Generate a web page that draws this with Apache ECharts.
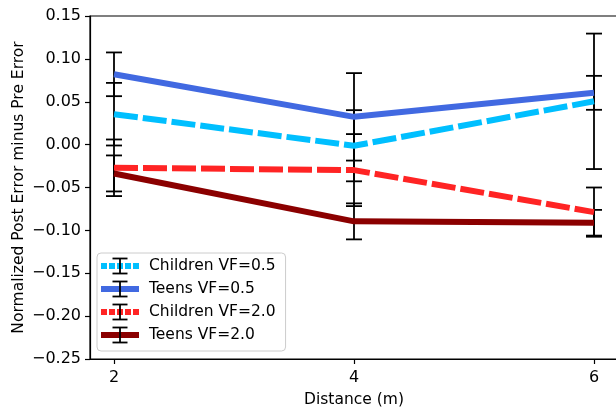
<!DOCTYPE html>
<html>
<head>
<meta charset="utf-8">
<script src="https://cdn.jsdelivr.net/npm/echarts@6/dist/echarts.min.js"></script>
<style>
  html, body { margin: 0; padding: 0; background: #ffffff; }
  #chart { width: 616px; height: 407px; }
</style>
</head>
<body>
<div id="chart"></div>
<script>
// ---- data ----
const distances = [2, 4, 6];
const seriesNames = ['Children VF=0.5', 'Teens VF=0.5', 'Children VF=2.0', 'Teens VF=2.0'];
const childrenVF05 = [0.0355, -0.0013, 0.0505];
const childrenVF05Err = [0.0365, 0.0415, 0.079];
const teensVF05 = [0.082, 0.0324, 0.0604];
const teensVF05Err = [0.0255, 0.051, 0.0198];
const childrenVF20 = [-0.027, -0.0297, -0.0787];
const childrenVF20Err = [0.033, 0.042, 0.0287];
const teensVF20 = [-0.0336, -0.0895, -0.0911];
const teensVF20Err = [0.021, 0.021, 0.015];
const xTicks = [2, 4, 6];
const yTicks = [-0.25, -0.20, -0.15, -0.10, -0.05, 0.00, 0.05, 0.10, 0.15];

// ---- styling ----
const FONT = 'DejaVu Sans';
const colors = ['#00bfff', '#4169e1', '#ff2424', '#8b0000'];
const dashed = [true, false, true, false];
const means = [childrenVF05, teensVF05, childrenVF20, teensVF20];
const errs = [childrenVF05Err, teensVF05Err, childrenVF20Err, teensVF20Err];

const chart = echarts.init(document.getElementById('chart'), null, { renderer: 'canvas' });

const lineSeries = seriesNames.map((name, i) => ({
  name: name,
  type: 'line',
  data: distances.map((d, j) => [d, means[i][j]]),
  symbol: 'none',
  z: 10 + i,
  color: colors[i],
  itemStyle: { color: colors[i] },
  lineStyle: { color: colors[i], width: 6, type: dashed[i] ? [24, 5] : 'solid', cap: 'butt', join: 'round' },
  animation: false
}));

const errData = [];
seriesNames.forEach((name, i) => {
  distances.forEach((d, j) => {
    errData.push([d, means[i][j] - errs[i][j], means[i][j] + errs[i][j]]);
  });
});

const errSeries = {
  name: 'errorbars',
  type: 'custom',
  z: 5,
  animation: false,
  data: errData,
  renderItem: function (params, api) {
    const x = api.value(0);
    const lo = api.coord([x, api.value(1)]);
    const hi = api.coord([x, api.value(2)]);
    const cw = 8;
    const st = { stroke: '#000', lineWidth: 1.8 };
    return {
      type: 'group',
      children: [
        { type: 'line', shape: { x1: lo[0], y1: lo[1], x2: hi[0], y2: hi[1] }, style: st },
        { type: 'line', shape: { x1: lo[0] - cw, y1: lo[1], x2: lo[0] + cw, y2: lo[1] }, style: st },
        { type: 'line', shape: { x1: hi[0] - cw, y1: hi[1], x2: hi[0] + cw, y2: hi[1] }, style: st }
      ]
    };
  }
};

// legend layout
const LEG_LEFT = 97, LEG_TOP = 253, LEG_PAD = [5, 10, 8, 4], ROW_H = 16, ROW_GAP = 7, ICON_W = 38, ICON_H = 6;
const dotted = 'path://M0,0h6v6h-6z M8,0h6v6h-6z M16,0h6v6h-6z M24,0h6v6h-6z M32,0h6v6h-6z';
const solid = 'path://M0,0h38v6h-38z';

const legendGlyphs = [];
seriesNames.forEach((n, i) => {
  const cx = LEG_LEFT + LEG_PAD[3] + ICON_W / 2;
  const cy = LEG_TOP + LEG_PAD[0] + i * (ROW_H + ROW_GAP) + ROW_H / 2;
  const st = { stroke: '#000', lineWidth: 1.8 };
  legendGlyphs.push({ type: 'line', z: 100, shape: { x1: cx, y1: cy - 7.5, x2: cx, y2: cy + 7.5 }, style: st, silent: true });
  legendGlyphs.push({ type: 'line', z: 100, shape: { x1: cx - 7.5, y1: cy - 7.5, x2: cx + 7.5, y2: cy - 7.5 }, style: st, silent: true });
  legendGlyphs.push({ type: 'line', z: 100, shape: { x1: cx - 7.5, y1: cy + 7.5, x2: cx + 7.5, y2: cy + 7.5 }, style: st, silent: true });
});

const option = {
  backgroundColor: '#ffffff',
  animation: false,
  textStyle: { fontFamily: FONT },
  grid: { left: 90, top: 16, width: 528, height: 343, show: true, borderColor: '#000', borderWidth: 1.2,
    backgroundColor: 'transparent', containLabel: false, outerBoundsMode: 'none' },
  xAxis: {
    type: 'value',
    min: 1.8,
    max: 6.2,
    name: 'Distance (m)',
    nameLocation: 'middle',
    nameGap: 33,
    nameMoveOverlap: false,
    nameTextStyle: { color: '#000', fontSize: 15.5, fontFamily: FONT },
    axisLine: { show: true, onZero: false, lineStyle: { color: '#000', width: 1.2 } },
    axisTick: { show: true, length: 5, lineStyle: { color: '#000', width: 1.2 }, customValues: xTicks },
    axisLabel: { color: '#000', fontSize: 16, fontFamily: FONT, margin: 11, customValues: xTicks, formatter: v => String(v) },
    splitLine: { show: false }
  },
  yAxis: {
    type: 'value',
    min: -0.25,
    max: 0.15,
    interval: 0.05,
    name: 'Normalized Post Error minus Pre Error',
    nameLocation: 'middle',
    nameGap: 63,
    nameMoveOverlap: false,
    nameTextStyle: { color: '#000', fontSize: 15.5, fontFamily: FONT },
    axisLine: { show: true, onZero: false, lineStyle: { color: '#000', width: 1.2 } },
    axisTick: { show: true, length: 5, lineStyle: { color: '#000', width: 1.2 }, customValues: yTicks },
    axisLabel: { color: '#000', fontSize: 16, fontFamily: FONT, margin: 9, customValues: yTicks,
      formatter: v => (Math.abs(v) < 1e-9 ? '0.00' : v.toFixed(2).replace('-', '\u2212')) },
    splitLine: { show: false }
  },
  legend: {
    orient: 'vertical',
    left: LEG_LEFT,
    top: LEG_TOP,
    padding: LEG_PAD,
    itemGap: ROW_GAP,
    itemWidth: ICON_W,
    itemHeight: ICON_H,
    backgroundColor: 'rgba(255,255,255,0.8)',
    borderColor: '#cccccc',
    borderWidth: 1,
    borderRadius: 4,
    selectedMode: false,
    itemStyle: { borderWidth: 0 },
    textStyle: { color: '#000', fontSize: 15.5, fontFamily: FONT, lineHeight: ROW_H, padding: [0, 0, 0, 5] },
    data: seriesNames.map((n, i) => ({ name: n, icon: dashed[i] ? dotted : solid, itemStyle: { color: colors[i], borderWidth: 0 } }))
  },
  graphic: legendGlyphs,
  series: [errSeries].concat(lineSeries)
};

chart.setOption(option);
</script>
</body>
</html>
